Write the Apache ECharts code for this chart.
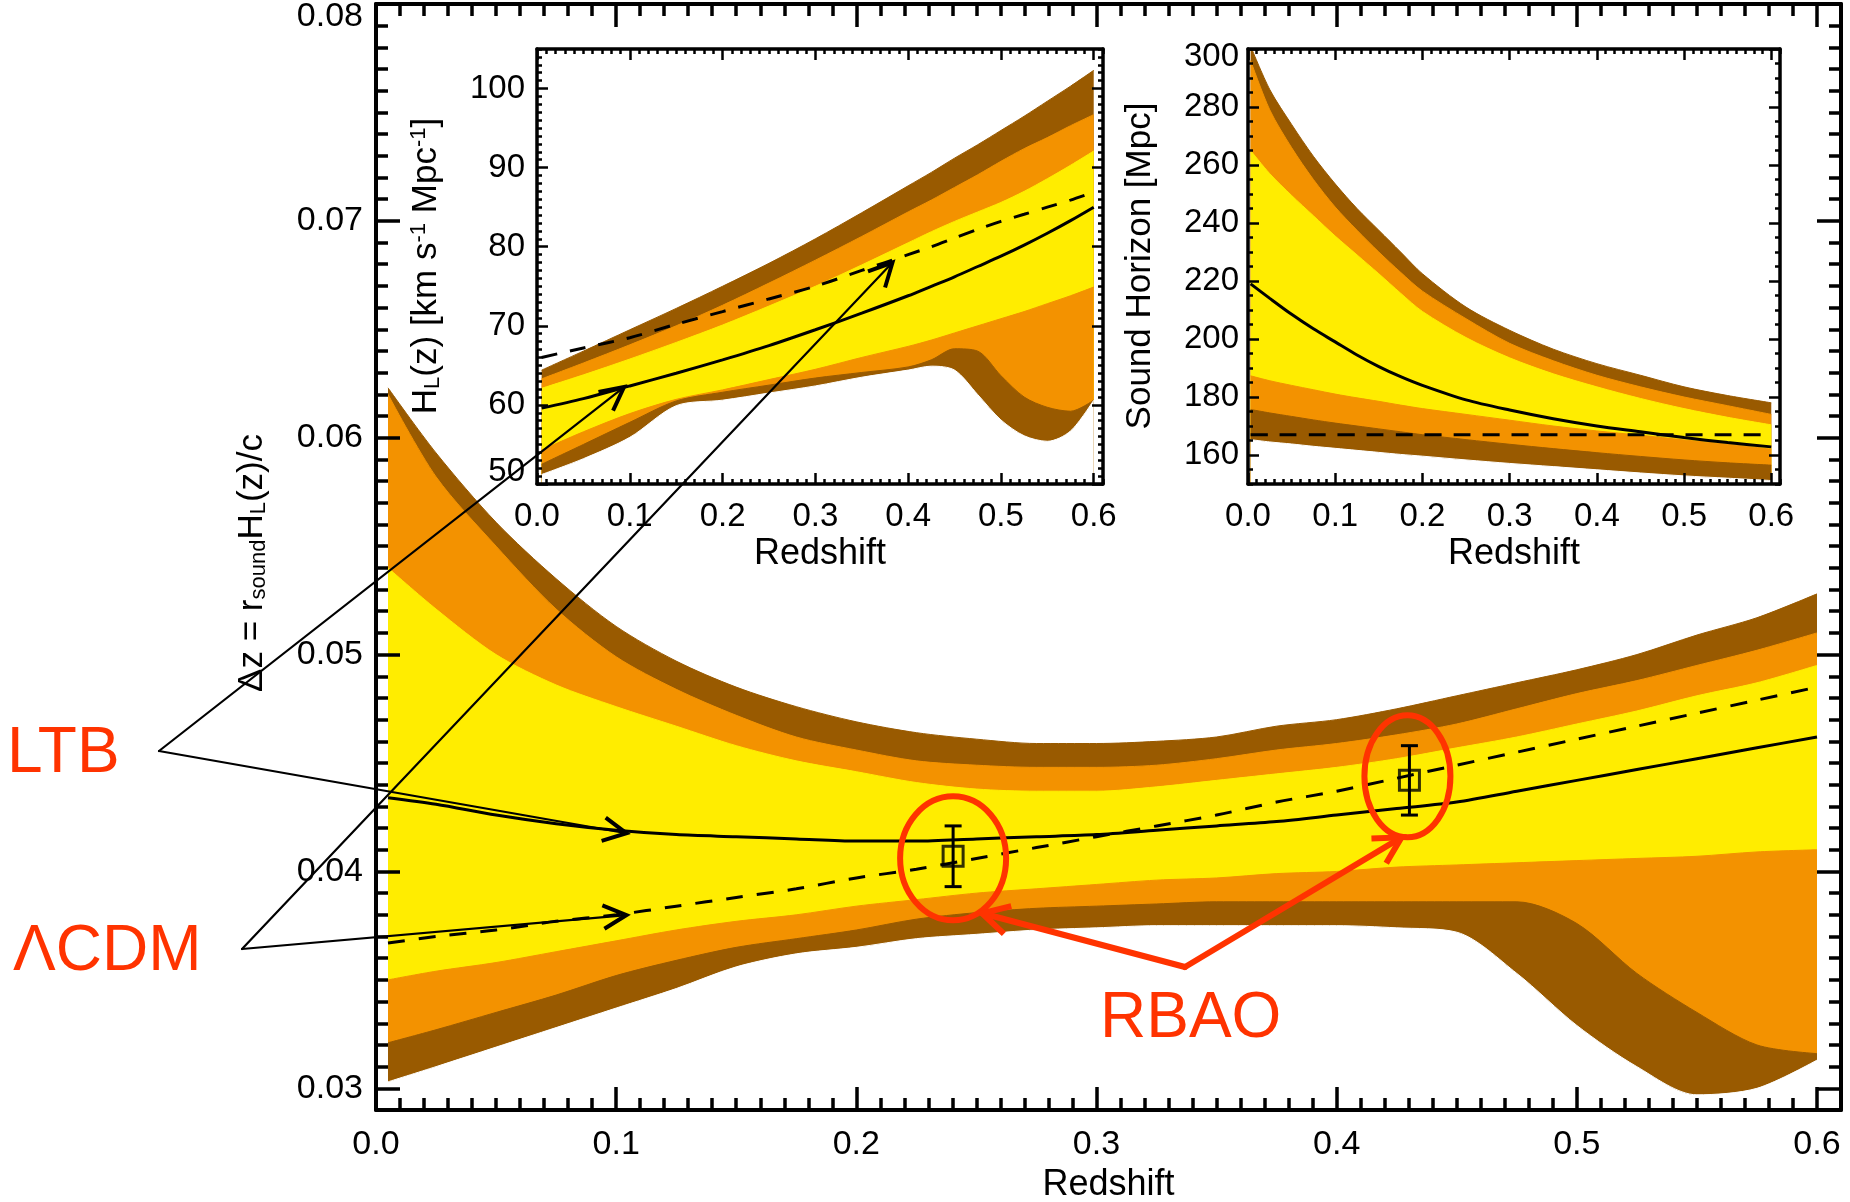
<!DOCTYPE html>
<html><head><meta charset="utf-8">
<script src="https://cdn.jsdelivr.net/npm/echarts@6/dist/echarts.min.js"></script>
<style>html,body{margin:0;padding:0;background:#fff}#c{width:1850px;height:1202px}</style>
</head><body><div id="c"></div>
<script>
// ---------------- DATA ----------------
// Main panel: redshift grid and band edges of Delta z = r_sound H_L(z)/c
const zMain = [0.005,0.025,0.05,0.075,0.1,0.125,0.15,0.175,0.2,0.225,0.25,0.275,0.3,0.325,0.35,0.375,0.4,0.425,0.45,0.475,0.5,0.525,0.55,0.575,0.6];
const mainOuterHigh = [0.0623,0.0593,0.0561,0.0535,0.0513,0.0497,0.0485,0.0476,0.0469,0.0464,0.0461,0.0459,0.0459,0.0460,0.0462,0.0467,0.0470,0.0475,0.0481,0.0487,0.0493,0.0500,0.0509,0.0517,0.0528];
const mainMidHigh   = [0.0620,0.0582,0.0550,0.0521,0.0499,0.0484,0.0472,0.0462,0.0456,0.0451,0.0449,0.0448,0.0448,0.0449,0.0452,0.0456,0.0459,0.0463,0.0468,0.0475,0.0482,0.0488,0.0495,0.0502,0.0510];
const mainInnerHigh = [0.0540,0.0521,0.0500,0.0486,0.0476,0.0467,0.0458,0.0451,0.0446,0.0441,0.0438,0.0437,0.0437,0.0439,0.0442,0.0445,0.0448,0.0452,0.0457,0.0462,0.0468,0.0474,0.0481,0.0487,0.0495];
const mainInnerLow  = [0.0350,0.0354,0.0358,0.0363,0.0368,0.0373,0.0377,0.0380,0.0384,0.0387,0.0390,0.0392,0.0394,0.0396,0.0397,0.0399,0.0400,0.0402,0.0403,0.0404,0.0405,0.0406,0.0407,0.0409,0.0410];
const mainMidLow    = [0.0321,0.0327,0.0335,0.0343,0.0352,0.0359,0.0365,0.0369,0.0373,0.0378,0.0381,0.0383,0.0384,0.0385,0.0386,0.0386,0.0386,0.0386,0.0386,0.0386,0.0376,0.0353,0.0335,0.0320,0.0316];
const mainOuterLow  = [0.0303,0.0310,0.0319,0.0328,0.0337,0.0346,0.0356,0.0362,0.0365,0.0369,0.0371,0.0373,0.0374,0.0375,0.0375,0.0375,0.0375,0.0374,0.0372,0.0353,0.0329,0.0310,0.0297,0.0300,0.0313];
const mainLTB       = [0.0434,0.0431,0.0426,0.0422,0.0419,0.0417,0.0416,0.0415,0.0414,0.0414,0.0415,0.0416,0.0417,0.0419,0.0421,0.0423,0.0426,0.0429,0.0432,0.0437,0.0442,0.0447,0.0452,0.0457,0.0462];
const mainLCDM      = [0.0367,0.0370,0.0373,0.0377,0.0380,0.0384,0.0388,0.0392,0.0397,0.0401,0.0406,0.0411,0.0416,0.0421,0.0426,0.0432,0.0437,0.0443,0.0449,0.0455,0.0461,0.0467,0.0473,0.0479,0.0485];
// RBAO measurements
const rbaoZ   = [0.2403, 0.4303];
const rbaoVal = [0.0407, 0.0442];
const rbaoErr = [0.0014, 0.0016];

// Inset 1: H_L(z)
const zH = [0.005,0.05,0.1,0.15,0.2,0.25,0.3,0.35,0.4,0.425,0.45,0.475,0.5,0.525,0.55,0.575,0.6];
const hOuterHigh = [64.4,66.8,69.5,72.2,75.0,77.9,81.0,84.3,87.7,89.4,91.2,92.9,94.7,96.5,98.4,100.3,102.3];
const hMidHigh   = [63.3,65.3,67.6,70.0,72.6,75.4,78.3,81.3,84.4,85.9,87.5,89.1,90.8,92.4,93.8,95.3,96.7];
const hInnerHigh = [62.1,63.8,65.8,67.9,70.1,72.5,75.0,77.7,80.5,81.9,83.2,84.4,85.6,87.0,88.6,90.3,92.1];
const hInnerLow  = [54.3,56.6,58.9,60.7,61.9,63.2,64.5,66.0,67.4,68.2,69.1,70.0,70.9,71.8,72.8,73.8,74.9];
const hMidLow    = [52.5,55.0,57.8,60.5,61.6,62.5,63.4,64.1,64.8,65.7,67.1,66.8,63.7,61.0,59.7,59.2,60.6];
const hOuterLow  = [51.2,53.2,55.9,59.9,60.6,61.5,62.4,63.5,64.4,64.9,64.4,61.3,58.1,56.1,55.4,56.7,60.6];
const hLTB       = [59.6,60.8,62.4,64.0,65.7,67.5,69.5,71.6,73.8,75.0,76.2,77.5,78.8,80.2,81.7,83.3,85.0];
const hLCDM      = [66.0,67.2,68.5,70.2,71.8,73.4,75.0,77.0,79.0,80.0,81.1,82.2,83.2,84.1,85.0,85.9,86.9];

// Inset 2: sound horizon
const zS = [0.003,0.025,0.05,0.075,0.1,0.125,0.15,0.175,0.2,0.25,0.3,0.35,0.4,0.45,0.5,0.55,0.6];
const sOuterHigh = [301,286,274,263,253.5,245,237.5,230,222.5,211,203,196.5,191.5,187.5,183.5,180.5,178];
const sMidHigh   = [296,279,266,255,245.5,237.5,230,223,216.5,207,198.5,192.5,187.5,183.5,180,177,174];
const sInnerHigh = [265,257,249.5,242.5,235.5,229,222.5,215.8,209.5,200.5,193.5,188,183.5,179.5,176,173,170.4];
const sInnerLow  = [187.3,185.6,184,182.5,181,179.7,178.5,177.2,176,174,172,170,168.3,166.8,165.2,163.7,162];
const sMidLow    = [175.7,174.5,173.3,172.1,171,170,169,168,167,165.3,163.7,162.2,160.8,159.5,158.3,157.3,156.5];
const sOuterLow  = [165.3,164.5,163.8,163,162.3,161.6,160.9,160.2,159.6,158.3,157.1,156,154.9,153.8,152.8,152,151.2];
const sLTB       = [219,214,208.5,203.5,199,194.5,190.5,187,184,179,175.5,172.5,170,168,166,164.3,162.8];
const sLCDM      = [167,167,167,167,167,167,167,167,167,167,167,167,167,167,167,167,167];

// Tick labels
const xTicks     = [0,0.1,0.2,0.3,0.4,0.5,0.6];
const mainYTicks = [0.03,0.04,0.05,0.06,0.07,0.08];
const hYTicks    = [50,60,70,80,90,100];
const sYTicks    = [160,180,200,220,240,260,280,300];

// ---------------- STYLE ----------------
const FONT = 'Liberation Sans, Arial, Helvetica, sans-serif';
const BROWN = '#995a00', ORANGE = '#f39200', YELLOW = '#ffed00', RED = '#ff3300';

function axesFor(gridIndex, sides, o) {
  const res = [];
  sides.forEach((side, si) => {
    res.push({type:'value', gridIndex, position:side, min:o.min, max:o.max, interval:o.minorStep, z:5,
      axisLine:{show:true, onZero:false, lineStyle:{color:'#000', width:o.lw}},
      axisTick:{show:true, inside:true, length:o.minorLen, lineStyle:{color:'#000', width:o.tw}},
      axisLabel:{show:false}, splitLine:{show:false}});
    const major = {type:'value', gridIndex, position:side, min:o.min, max:o.max, z:5,
      axisLine:{show:false, onZero:false},
      axisTick:{show:true, inside:true, length:o.majorLen, customValues:o.ticks, lineStyle:{color:'#000', width:o.tw}},
      axisLabel:{show: si === 0, customValues:o.ticks, formatter:o.fmt, margin:o.margin,
        fontSize:o.fs, fontFamily:FONT, color:'#000', rich:o.rich || {}},
      splitLine:{show:false}};
    if (si === 0 && o.name) {
      major.name = o.name; major.nameLocation = 'middle'; major.nameGap = o.nameGap;
      major.nameTextStyle = {fontSize:36, fontFamily:FONT, color:'#000'};
    }
    res.push(major);
  });
  return res;
}

const richBase = (fs) => ({
  top: {fontSize:fs, fontFamily:FONT, color:'#000', padding:[26,0,0,0]},
  top2: {fontSize:fs, fontFamily:FONT, color:'#000', padding:[15,0,0,0]},
  bot: {fontSize:fs, fontFamily:FONT, color:'#000', padding:[0,0,24,0]}
});

const xAxes = [].concat(
  axesFor(0, ['bottom','top'], {min:0, max:0.61, minorStep:0.01, ticks:xTicks, fmt:v=>(+v).toFixed(1), lw:4, tw:3.5, majorLen:23, minorLen:12, fs:34, margin:18, name:'Redshift', nameGap:52}),
  axesFor(1, ['bottom','top'], {min:0, max:0.61, minorStep:0.01, ticks:xTicks, fmt:v=>(+v).toFixed(1), lw:3.5, tw:2.5, majorLen:11, minorLen:5, fs:33, margin:16, name:'Redshift', nameGap:52}),
  axesFor(2, ['bottom','top'], {min:0, max:0.61, minorStep:0.01, ticks:xTicks, fmt:v=>(+v).toFixed(1), lw:3.5, tw:2.5, majorLen:11, minorLen:5, fs:33, margin:16, name:'Redshift', nameGap:52})
);
const yAxes = [].concat(
  axesFor(0, ['left','right'], {min:0.029, max:0.08, minorStep:0.001, ticks:mainYTicks,
    fmt:v=>{const s=(+v).toFixed(2); return Math.abs(v-0.08)<1e-9 ? '{top|'+s+'}' : s;}, rich:richBase(34),
    lw:4, tw:3.5, majorLen:24, minorLen:12, fs:34, margin:13}),
  axesFor(1, ['left','right'], {min:50, max:105, minorStep:1, ticks:hYTicks,
    fmt:v=>{const s=String(Math.round(v)); return Math.round(v)===50 ? '{bot|'+s+'}' : s;}, rich:richBase(33),
    lw:3.5, tw:2.5, majorLen:11, minorLen:5, fs:33, margin:12}),
  axesFor(2, ['left','right'], {min:150, max:300, minorStep:5, ticks:sYTicks,
    fmt:v=>{const s=String(Math.round(v)); return Math.round(v)===300 ? '{top2|'+s+'}' : s;}, rich:richBase(33),
    lw:3.5, tw:2.5, majorLen:11, minorLen:5, fs:33, margin:9})
);

// Bands are painted from the top edge downward; each edge fills down to the axis
// start, the next (lower) edge paints over it, and the lowest edge is painted white.
function bandSeries(g, zs, edgesTopDown) {
  const cols = [BROWN, ORANGE, YELLOW, ORANGE, BROWN, '#ffffff'];
  return edgesTopDown.map((e, k) => ({type:'line', xAxisIndex:4*g, yAxisIndex:4*g, smooth:0.3,
    symbol:'none', silent:true, z:2, lineStyle:{width:1, color:cols[k]},
    areaStyle:{color:cols[k], opacity:1, origin:'start'},
    data: zs.map((z,i)=>[z, e[i]])}));
}
function curve(g, zs, vals, dashed, dash) {
  return {type:'line', xAxisIndex:4*g, yAxisIndex:4*g, smooth:0.3, symbol:'none', silent:true, z:3,
    lineStyle:{color:'#000', width:3, type: dashed ? dash : 'solid'},
    data: zs.map((z,i)=>[z, vals[i]])};
}

const series = [].concat(
  bandSeries(0, zMain, [mainOuterHigh, mainMidHigh, mainInnerHigh, mainInnerLow, mainMidLow, mainOuterLow]),
  bandSeries(1, zH, [hOuterHigh, hMidHigh, hInnerHigh, hInnerLow, hMidLow, hOuterLow]),
  bandSeries(2, zS, [sOuterHigh, sMidHigh, sInnerHigh, sInnerLow, sMidLow, sOuterLow]),
  [curve(0, zMain, mainLTB, false), curve(0, zMain, mainLCDM, true, [17,14]),
   curve(1, zH, hLTB, false), curve(1, zH, hLCDM, true, [16,13]),
   curve(2, zS, sLTB, false), curve(2, zS, sLCDM, true, [17,12]),
   {type:'custom', xAxisIndex:0, yAxisIndex:0, z:5, silent:true, clip:false,
    data: rbaoZ.map((z,i)=>[z, rbaoVal[i], rbaoErr[i]]),
    encode:{x:0, y:1},
    renderItem:(params, api)=>{
      const x=api.value(0), y=api.value(1), e=api.value(2);
      const t=api.coord([x,y+e]), b=api.coord([x,y-e]); const hw=8.5;
      const st={stroke:'#000', lineWidth:3};
      return {type:'group', children:[
        {type:'line', shape:{x1:t[0],y1:t[1],x2:b[0],y2:b[1]}, style:st},
        {type:'line', shape:{x1:t[0]-hw,y1:t[1],x2:t[0]+hw,y2:t[1]}, style:st},
        {type:'line', shape:{x1:b[0]-hw,y1:b[1],x2:b[0]+hw,y2:b[1]}, style:st}]};
    }},
   {type:'scatter', xAxisIndex:0, yAxisIndex:0, z:6, silent:true, symbol:'rect', symbolSize:20,
    itemStyle:{color:'rgba(0,0,0,0)', borderColor:'#000', borderWidth:3},
    data: rbaoZ.map((z,i)=>[z, rbaoVal[i]])}]
);

const option = {
  animation:false, backgroundColor:'#fff',
  grid:[
    {left:376, top:4, width:1465, height:1106, containLabel:false, outerBoundsMode:'none'},
    {left:537, top:49, width:566, height:435, containLabel:false, outerBoundsMode:'none'},
    {left:1248, top:49, width:532, height:435, containLabel:false, outerBoundsMode:'none'}],
  xAxis:xAxes, yAxis:yAxes, series
};

const chart = echarts.init(document.getElementById('c'), null, {renderer:'canvas'});
chart.setOption(option);

// ---------------- ANNOTATIONS ----------------
function px(g, x, y) { return chart.convertToPixel({xAxisIndex:4*g, yAxisIndex:4*g}, [x, y]); }
function arrowHead(from, tip, len, half, color, lw) {
  const a = Math.atan2(tip[1]-from[1], tip[0]-from[0]);
  const p1 = [tip[0]-len*Math.cos(a-half), tip[1]-len*Math.sin(a-half)];
  const p2 = [tip[0]-len*Math.cos(a+half), tip[1]-len*Math.sin(a+half)];
  return {type:'polyline', z:100, silent:true, shape:{points:[p1, tip, p2]},
    style:{stroke:color, lineWidth:lw, fill:null, lineJoin:'miter'}};
}
function seg(p, q, color, lw) {
  return {type:'line', z:100, silent:true, shape:{x1:p[0],y1:p[1],x2:q[0],y2:q[1]}, style:{stroke:color, lineWidth:lw, lineCap:'round'}};
}
const els = [];
const vLTB = [159, 751], vLCDM = [242, 949];
const tips = [
  [vLTB, px(0, 0.1043, 0.04176)], [vLTB, px(1, 0.0938, 62.26)],
  [vLCDM, px(0, 0.1043, 0.03799)], [vLCDM, px(1, 0.3831, 78.0)]];
tips.forEach(([v,t]) => { els.push(seg(v, t, '#000', 2.2)); els.push(arrowHead(v, t, 26, 0.47, '#000', 4)); });

const p1 = px(0, rbaoZ[0], rbaoVal[0]), p2 = px(0, rbaoZ[1], rbaoVal[1]);
els.push({type:'ellipse', z:100, silent:true, shape:{cx:p1[0], cy:p1[1]+2, rx:53, ry:62}, style:{fill:null, stroke:RED, lineWidth:6}});
els.push({type:'ellipse', z:100, silent:true, shape:{cx:p2[0]-2, cy:p2[1]-4, rx:43, ry:61}, style:{fill:null, stroke:RED, lineWidth:6}});
const vR = [1185, 967];
const t1 = [p1[0]+29, p1[1]+57], t2 = [p2[0]-8, p2[1]+57];
[t1, t2].forEach(t => { els.push(seg(vR, t, RED, 6)); els.push(arrowHead(vR, t, 30, 0.5, RED, 6)); });

const txt = (x, y, s) => ({type:'text', z:101, silent:true, x, y,
  style:{text:s, fontSize:64, fontFamily:FONT, fill:RED, textAlign:'left', align:'left', textVerticalAlign:'middle', verticalAlign:'middle'}});
els.push(txt(7, 754, 'LTB'));
els.push(txt(13, 952, 'ΛCDM'));
els.push(txt(1100, 1019, 'RBAO'));

const rich = {
  n:{fontSize:35, fontFamily:FONT, fill:'#000', lineHeight:36},
  s:{fontSize:22, fontFamily:FONT, fill:'#000', verticalAlign:'bottom', lineHeight:2},
  u:{fontSize:22, fontFamily:FONT, fill:'#000', verticalAlign:'top', lineHeight:2}
};
const vtitle = (x, y, s) => ({type:'text', z:101, silent:true, x, y, rotation:Math.PI/2,
  style:{text:s, rich, fontSize:35, fontFamily:FONT, fill:'#000', textAlign:'center', align:'center', textVerticalAlign:'middle', verticalAlign:'middle'}});
els.push(vtitle(252, 563, '{n|Δz = r}{s|sound}{n|H}{s|L}{n|(z)/c}'));
els.push(vtitle(426, 266, '{n|H}{s|L}{n|(z) [km s}{u|-1}{n| Mpc}{u|-1}{n|]}'));
els.push(vtitle(1140, 266, '{n|Sound Horizon [Mpc]}'));

chart.setOption({graphic:{elements:els}});
</script>
</body></html>
